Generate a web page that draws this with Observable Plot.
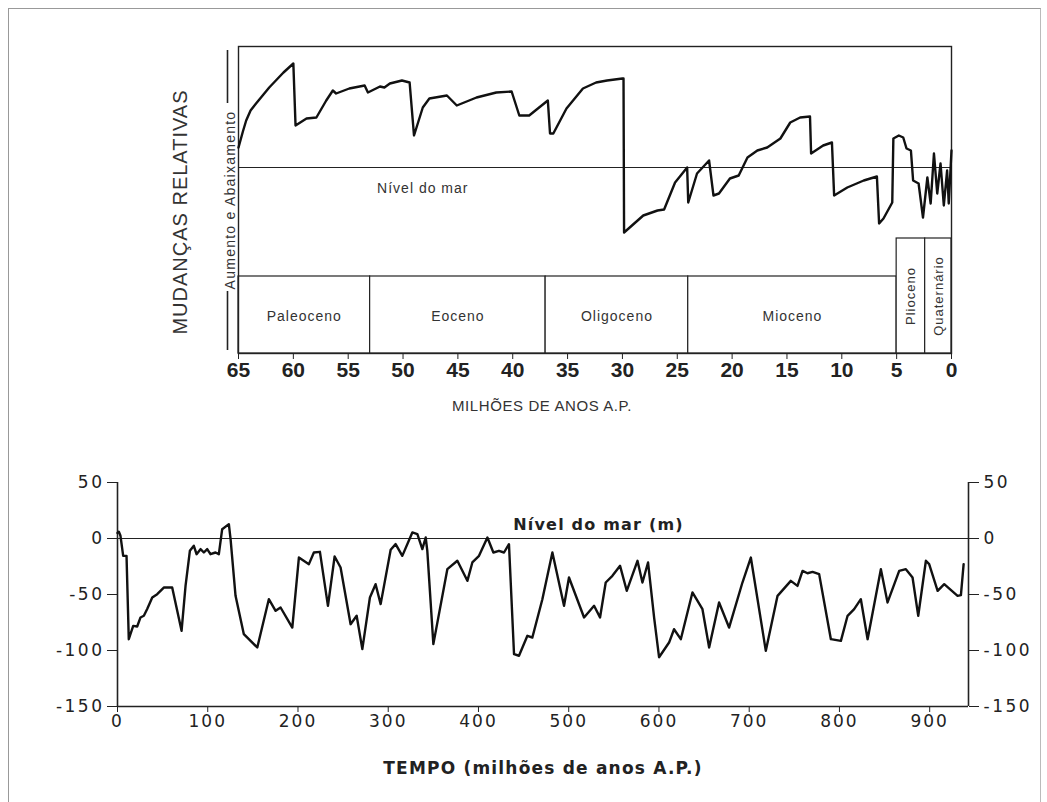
<!DOCTYPE html>
<html><head><meta charset="utf-8">
<script src="https://cdn.jsdelivr.net/npm/d3@7"></script>
<script src="https://cdn.jsdelivr.net/npm/@observablehq/plot@0.6"></script>
<style>
html,body{margin:0;padding:0;background:#fff;}
#wrap{position:relative;width:1047px;height:802px;overflow:hidden;background:#fff;}
#border{position:absolute;left:8px;top:8px;right:6px;bottom:-4px;border-left:1px solid #999;border-top:1px solid #999;border-right:1px solid #bbb;}
#top{position:absolute;left:0;top:0;}
#bottom{position:absolute;left:0;top:430px;}
#bottom g[aria-label="y-axis tick label"] text{letter-spacing:2.5px;}
#bottom g[aria-label="x-axis tick label"] text{letter-spacing:2px;}
#bottom g[aria-label="text"] text{letter-spacing:1.2px;}
#top g[aria-label="text"] text{letter-spacing:1px;}
</style></head><body>
<div id="wrap"><div id="border"></div><div id="top"></div><div id="bottom"></div></div>
<script>
// ---- Top panel: relative sea-level changes, Cenozoic (Ma before present) ----
const topAge = [65,64.6,64.3,63.9,63.4,62.2,60.9,60.0,59.8,58.8,57.9,57.0,56.4,56.1,54.9,53.5,53.2,52.1,51.7,51.2,50.1,49.4,49.0,48.2,47.6,46.0,45.1,43.3,41.5,40.1,39.4,38.5,36.8,36.6,36.3,35.1,33.6,32.4,31.4,30.0,29.9,29.85,28.1,26.8,26.2,25.2,24.1,24.0,23.2,22.1,21.7,21.2,20.2,19.4,18.6,17.7,16.8,15.6,14.7,13.8,12.9,12.8,11.7,10.9,10.7,9.5,8.0,6.8,6.6,6.2,5.4,5.3,4.8,4.4,4.1,3.7,3.5,3.0,2.6,2.2,1.9,1.6,1.3,1.0,0.7,0.4,0.25,0.0];
const topLevel = [2.0,3.6,4.7,5.7,6.4,8.0,9.5,10.4,4.2,4.9,5.0,6.7,7.7,7.4,7.9,8.2,7.5,8.1,8.0,8.4,8.7,8.5,3.2,6.0,6.9,7.2,6.2,7.0,7.5,7.6,5.2,5.2,6.7,3.4,3.4,5.9,7.9,8.5,8.7,8.9,8.9,-6.5,-4.8,-4.3,-4.2,-1.5,0.0,-3.5,-0.6,0.7,-2.8,-2.6,-1.1,-0.8,1.0,1.7,2.0,2.9,4.5,5.0,5.1,1.4,2.2,2.5,-2.8,-2.0,-1.3,-0.9,-5.6,-5.1,-3.5,2.9,3.2,3.0,1.9,1.7,-1.3,-1.6,-5.0,-1.0,-3.6,1.4,-2.6,0.4,-3.8,-0.3,-3.6,1.7];
const topTicks = [65,60,55,50,45,40,35,30,25,20,15,10,5,0];
const epochNames = ["Paleoceno","Eoceno","Oligoceno","Mioceno","Plioceno","Quaternário"];
const epochStart = [65,53,37,24,5,2.4];
const epochEnd   = [53,37,24,5,2.4,0];

// ---- Bottom panel: sea level (m) over 940 Ma ----
const botTime = [0,1.5,3.3,6.3,10,12.5,17.4,21.8,25.5,29.2,32.9,38.5,44,51.3,60.6,71,75.4,80.2,84.6,87.6,92,95.7,99.4,103,108.6,112.3,116,123.4,125.3,130.8,140,154.9,167.7,175.2,180.7,193.7,201,212.1,217.6,224.3,233.2,240.6,247.2,258.3,265,271.3,279.7,286,291.6,302.7,308.2,315.6,326.7,332.3,337.8,341.5,343.3,350,365.5,376.6,387.7,393.2,400.6,409.9,416.5,422.7,428.3,433.8,439.4,444.9,454.2,459.7,470.8,481.9,494.8,500.3,517,528.1,534.7,541,548.4,556.9,564.3,576.2,581.7,587.9,594.6,600.1,611.2,616.7,624.2,637.1,648.2,655.6,666.6,677.7,692.5,701.8,718.4,731.4,746.1,753.5,759.1,764.6,770.2,777.5,790.5,801.6,809,816.3,823.7,831.2,845.9,853.3,866.2,873.6,881,887.3,895.8,899.4,908.8,916.1,930.9,934.6,937.6];
const botLevel = [5,6,2.4,-15.5,-15.5,-89.9,-78,-78.6,-70.5,-69,-63,-52.7,-49.7,-43.8,-43.8,-82.4,-42.3,-11,-6.5,-14,-9.5,-12.5,-9.5,-14,-12.5,-14,8.3,12.8,-0.6,-51.2,-85.4,-97.3,-54.2,-64.6,-61.6,-79.5,-17,-22.9,-12.5,-11.9,-60.1,-16.1,-25.9,-76.5,-69,-98.8,-52.7,-40.8,-58.6,-10,-5,-15.5,5.4,3.9,-9.5,0.9,-11,-94.3,-27.4,-19.9,-37.8,-21.4,-15.5,0.9,-12.5,-11,-12.5,-5.1,-103.3,-104.7,-86.9,-88.4,-54.2,-12.5,-60.1,-34.8,-70.5,-60.1,-70.5,-39.3,-33.3,-24.4,-46.7,-19.9,-39.3,-21.4,-70.5,-106,-92.9,-81,-89.9,-48.2,-63.1,-97.3,-57.1,-79.5,-39.3,-17,-100.3,-51.2,-37.8,-42.3,-28.9,-31,-29.8,-31.8,-89.9,-91.4,-69,-63.1,-54.2,-89.9,-27.4,-57.1,-28.9,-27.4,-34.8,-69,-19.9,-22.9,-46.7,-40.8,-51.2,-50.6,-22.9];
const botYTicks = [50,0,-50,-100,-150];
const botXTicks = [0,100,200,300,400,500,600,700,800,900];

const topSeries = topAge.map((a,i)=>({age:a, level:topLevel[i]}));
const epochs = epochNames.map((n,i)=>({name:n, start:epochStart[i], end:epochEnd[i], vertical: i>=4}));
const botSeries = botTime.map((t,i)=>({t, m:botLevel[i]}));

const ink = "#222";
const topFont = "'Liberation Sans', Arial, sans-serif";

const topPlot = Plot.plot({
  width: 1047, height: 430,
  marginLeft: 238, marginRight: 96, marginTop: 46, marginBottom: 77,
  x: {domain: [65, 0], axis: null},
  y: {domain: [-18.6, 12.1], axis: null},
  style: {fontFamily: topFont, color: ink, background: "transparent", overflow: "visible"},
  marks: [
    Plot.rect(epochs, {x1: "start", x2: "end", y1: -18.6, y2: d => d.vertical ? -7.1 : -10.9, stroke: ink, strokeWidth: 1.2, fill: "white"}),
    Plot.frame({stroke: ink, strokeWidth: 1.4}),
    Plot.ruleY([0], {stroke: ink, strokeWidth: 1.2}),
    Plot.line(topSeries, {x: "age", y: "level", stroke: "#111", strokeWidth: 2.4, strokeLinejoin: "round"}),
    Plot.text(epochs.filter(d => !d.vertical), {x: d => (d.start + d.end) / 2, y: -14.9, text: "name", fontSize: 14, fill: "#333"}),
    Plot.text(epochs.filter(d => d.vertical), {x: d => (d.start + d.end) / 2, y: -12.85, text: "name", rotate: -90, fontSize: 13, fill: "#333"}),
    Plot.text(["Nível do mar"], {x: 48.2, y: -2.1, text: d => d, fontSize: 14, fill: "#333"}),
    Plot.text(["MUDANÇAS RELATIVAS"], {frameAnchor: "left", textAnchor: "middle", text: d => d, rotate: -90, dx: -58, dy: 12, fontSize: 20, fill: "#333"}),
    Plot.text(["Aumento e Abaixamento"], {frameAnchor: "left", textAnchor: "middle", text: d => d, rotate: -90, dx: -8, dy: 0, fontSize: 14, fill: "#333"}),
    Plot.ruleX([65], {y1: 11.7, y2: 6.4, dx: -11, stroke: ink, strokeWidth: 1.6}),
    Plot.ruleX([65], {y1: -12.4, y2: -18.3, dx: -11, stroke: ink, strokeWidth: 1.6}),
    Plot.axisX(topTicks, {anchor: "bottom", tickSize: 6, tickPadding: 3, fontSize: 21, fontWeight: "bold", label: null, tickFormat: d => String(d), stroke: ink}),
    Plot.text(["MILHÕES DE ANOS A.P."], {frameAnchor: "bottom", text: d => d, dx: -53, dy: 57, fontSize: 15, fill: "#333"})
  ]
});
document.getElementById("top").appendChild(topPlot);
d3.select(topPlot).selectAll("text").each(function () {
  const t = this.textContent;
  if (t === "Aumento e Abaixamento") this.style.letterSpacing = "1.25px";
  if (t === "MILHÕES DE ANOS A.P.") this.style.letterSpacing = "0.6px";
});

const botFont = "'DejaVu Sans', Verdana, sans-serif";
const botPlot = Plot.plot({
  width: 1047, height: 372,
  marginLeft: 117, marginRight: 79, marginTop: 52, marginBottom: 96,
  x: {domain: [0, 943], axis: null},
  y: {domain: [-150, 50], axis: null},
  style: {fontFamily: botFont, color: ink, background: "transparent", overflow: "visible"},
  marks: [
    Plot.ruleY([0], {stroke: ink, strokeWidth: 1.2}),
    Plot.ruleY([-150], {stroke: ink, strokeWidth: 1.6}),
    Plot.ruleX([0, 943], {y1: -150, y2: 50, stroke: ink, strokeWidth: 1.6}),
    Plot.line(botSeries, {x: "t", y: "m", stroke: "#111", strokeWidth: 2.4, strokeLinejoin: "round"}),
    Plot.axisY(botYTicks, {anchor: "left", tickSize: 10, tickPadding: 3, fontSize: 17, label: null, tickFormat: d => String(d), stroke: ink}),
    Plot.axisY(botYTicks, {anchor: "right", tickSize: 10, tickPadding: 5, fontSize: 17, label: null, tickFormat: d => String(d), stroke: ink}),
    Plot.axisX(botXTicks, {anchor: "bottom", tickSize: 6, tickPadding: 2, fontSize: 17, label: null, tickFormat: d => String(d), stroke: ink}),
    Plot.text(["Nível do mar (m)"], {x: 533, y: 0, dy: -14, text: d => d, fontSize: 16, fontWeight: "bold", fill: "#222"}),
    Plot.text(["TEMPO (milhões de anos A.P.)"], {frameAnchor: "bottom", text: d => d, dy: 67, fontSize: 17, fontWeight: "bold", fill: "#222"})
  ]
});
document.getElementById("bottom").appendChild(botPlot);
</script>
</body></html>
